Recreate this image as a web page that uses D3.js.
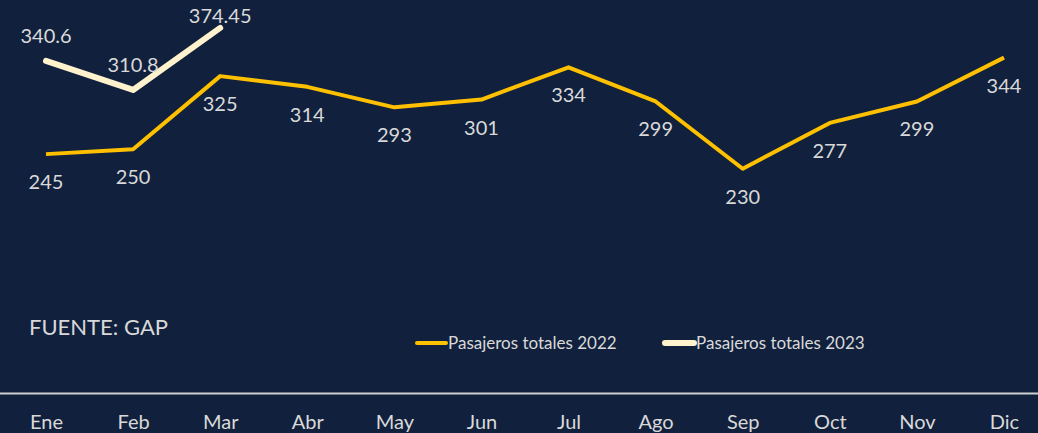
<!DOCTYPE html>
<html>
<head>
<meta charset="utf-8">
<script src="https://cdn.jsdelivr.net/npm/d3@7"></script>
<style>
  body { margin: 0; background: #11213d; }
  text { font-family: Lato, "Open Sans", sans-serif; fill: #d9d9d9; }
</style>
</head>
<body>
<script>
// datos
const meses = ["Ene", "Feb", "Mar", "Abr", "May", "Jun", "Jul", "Ago", "Sep", "Oct", "Nov", "Dic"];
const pasajeros2022 = [245, 250, 325, 314, 293, 301, 334, 299, 230, 277, 299, 344];
const pasajeros2023 = [340.6, 310.8, 374.45];
const etiquetas2023 = ["340.6", "310.8", "374.45"];
const series = ["Pasajeros totales 2022", "Pasajeros totales 2023"];
const colores = ["#ffc000", "#fff2cc"];

let width = 1038;
let height = 433;

const escalaX = d3.scalePoint()
  .domain(meses)
  .range([46, 1004]);
const escalaY = d3.scaleLinear()
  .domain([0, 400])
  .range([393, 3]);

let svg = d3.select("body")
  .append("svg")
  .attr("width", width)
  .attr("height", height);

svg.append("rect")
  .attr("width", width)
  .attr("height", height)
  .attr("fill", "#11213d");

// eje x
let ejeX = d3.axisBottom(escalaX).tickSize(0);
let gx = svg.append("g")
  .attr("transform", "translate(0," + escalaY(0) + ")")
  .call(ejeX);
gx.select(".domain")
  .attr("d", "M0,0.5H" + width)
  .attr("stroke", "#d0d0d0")
  .attr("stroke-width", 2);
gx.selectAll("text")
  .attr("y", 36)
  .attr("dy", null)
  .style("font-size", "20px")
  .attr("fill", "#d9d9d9");

let linea = d3.line()
  .x((d, i) => escalaX(meses[i]))
  .y(d => escalaY(d));

svg.append("path")
  .datum(pasajeros2022)
  .attr("d", linea)
  .attr("fill", "none")
  .attr("stroke", colores[0])
  .attr("stroke-width", 4)
  .attr("stroke-linejoin", "round");

svg.append("path")
  .datum(pasajeros2023)
  .attr("d", linea)
  .attr("fill", "none")
  .attr("stroke", colores[1])
  .attr("stroke-width", 6)
  .attr("stroke-linecap", "round")
  .attr("stroke-linejoin", "round");

// etiquetas 2022 (debajo)
svg.selectAll(".et22")
  .data(pasajeros2022)
  .enter()
  .append("text")
  .attr("class", "et22")
  .attr("x", (d, i) => escalaX(meses[i]))
  .attr("y", d => escalaY(d) + 35)
  .attr("text-anchor", "middle")
  .style("font-size", "20px")
  .text(d => d);

// etiquetas 2023 (encima)
svg.selectAll(".et23")
  .data(pasajeros2023)
  .enter()
  .append("text")
  .attr("class", "et23")
  .attr("x", (d, i) => escalaX(meses[i]))
  .attr("y", d => Math.max(escalaY(d) - 18, 23))
  .attr("text-anchor", "middle")
  .style("font-size", "20px")
  .text((d, i) => etiquetas2023[i]);

svg.append("text")
  .attr("x", 29)
  .attr("y", 335)
  .style("font-size", "22px")
  .text("FUENTE: GAP");

// leyenda
let leyendaX = [415, 663];
let ley = svg.selectAll(".ley")
  .data(series)
  .enter()
  .append("g")
  .attr("transform", (d, i) => "translate(" + leyendaX[i] + ",343)");
ley.append("line")
  .attr("x1", 2).attr("x2", 31)
  .attr("stroke", (d, i) => colores[i])
  .attr("stroke-width", (d, i) => i == 0 ? 4 : 6)
  .attr("stroke-linecap", "round");
ley.append("text")
  .attr("x", 33)
  .attr("y", 6)
  .style("font-size", "17px")
  .text(d => d);
</script>
</body>
</html>
